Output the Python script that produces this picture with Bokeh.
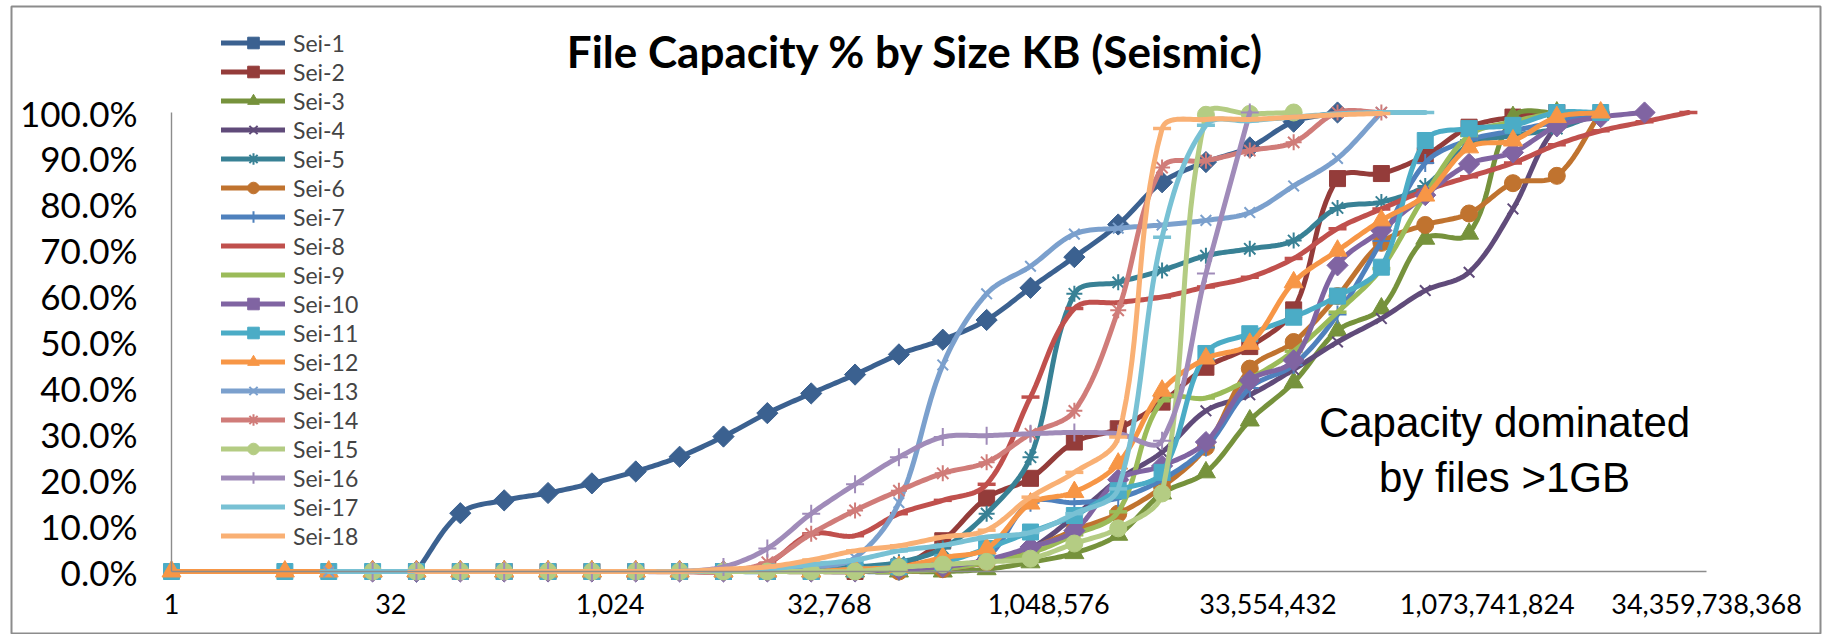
import math
import numpy as np
from bokeh.plotting import figure
from bokeh.models import (Range1d, LogAxis, LinearAxis, FixedTicker, NumeralTickFormatter,
                          Legend, LegendItem, Label)
from bokeh.embed import file_html
from bokeh.resources import INLINE

N = None

# File size buckets (KB)
SIZE_KB = [1, 6, 12, 24, 48, 96, 192, 384, 768, 1536, 3072, 6144, 12288, 24576, 49152,
           98304, 196608, 393216, 786432, 1572864, 3145728, 6291456, 12582912, 25165824,
           50331648, 100663296, 201326592, 402653184, 805306368, 1610612736, 3221225472,
           6442450944, 12884901888, 25769803776]

# Axis tick positions (KB)
X_TICKS = [1, 32, 1024, 32768, 1048576, 33554432, 1073741824, 34359738368]
Y_TICKS = [0.0, 0.1, 0.2, 0.3, 0.4, 0.5, 0.6, 0.7, 0.8, 0.9, 1.0]

# Cumulative capacity share per size bucket
sei_1 = [N, N, N, N, 0, .127, .155, .171, .192, .218, .250, .294, .345, .388, .429, .473, .505,
         .548, .618, .685, .756, .848, .892, .924, .980, 1.0, N, N, N, N, N, N, N, N]
sei_2 = [N, N, N, N, 0, 0, 0, 0, 0, 0, 0, 0, 0, 0, 0, .010, .067, .160, .203, .282, .311, .369,
         .445, .490, .570, .856, .867, .906, .968, .990, 1.0, N, N, N]
sei_3 = [N, N, N, 0, 0, 0, 0, 0, 0, 0, 0, 0, 0, 0, 0, 0, 0, .005, .020, .040, .080, .170, .216,
         .329, .412, .525, .573, .725, .736, .990, 1.0, N, N, N]
sei_4 = [N, N, 0, 0, 0, 0, 0, 0, 0, 0, 0, 0, 0, 0, 0, 0, .005, .020, .050, .120, .200, .260,
         .350, .385, .440, .500, .551, .612, .652, .790, .970, 1.0, N, N]
sei_5 = [N, N, 0, 0, 0, 0, 0, 0, 0, 0, 0, 0, 0, .005, .010, .020, .050, .126, .249, .605, .630,
         .656, .688, .703, .721, .792, .805, .840, .930, .950, .965, 1.0, N, N]
sei_6 = [N, N, N, 0, 0, 0, 0, 0, 0, 0, 0, 0, 0, 0, 0, 0, .005, .020, .050, .090, .126, .184,
         .271, .442, .500, .600, .716, .755, .780, .846, .862, 1.0, N, N]
sei_7 = [N, N, N, N, 0, 0, 0, 0, 0, 0, 0, 0, 0, 0, 0, 0, .010, .030, .150, .150, .160, .200,
         .270, .400, .450, .560, .720, .890, .940, .960, .980, 1.0, N, N]
sei_8 = [N, N, N, N, 0, 0, 0, 0, 0, 0, 0, 0, .017, .082, .078, .126, .155, .190, .380, .573,
         .586, .598, .620, .641, .682, .747, .790, .830, .860, .890, .930, .960, .980, 1.0]
sei_9 = [N, N, N, 0, 0, 0, 0, 0, 0, 0, 0, 0, 0, 0, 0, 0, .005, .020, .040, .080, .130, .372,
         .378, .420, .480, .565, .660, .820, .950, .980, 1.0, N, N, N]
sei_10 = [N, N, N, 0, 0, 0, 0, 0, 0, 0, 0, 0, 0, 0, 0, .005, .010, .025, .053, .089, .200,
          .230, .282, .416, .460, .667, .743, .820, .888, .913, .970, .990, 1.0, N]
sei_11 = [0, 0, 0, 0, 0, 0, 0, 0, 0, 0, 0, 0, 0, 0, .005, .010, .020, .050, .086, .122, .176,
          .216, .475, .518, .554, .600, .663, .939, .965, .972, 1.0, 1.0, N, N]
sei_12 = [0, 0, 0, 0, 0, 0, 0, 0, 0, 0, 0, 0, 0, 0, .005, .010, .030, .050, .148, .173, .235,
          .394, .464, .496, .630, .699, .765, .819, .924, .939, .990, 1.0, N, N]
sei_13 = [N, N, 0, 0, 0, 0, 0, 0, 0, 0, 0, 0, .005, .010, .030, .150, .450, .605, .665, .735,
          .748, .755, .765, .782, .840, .900, 1.0, N, N, N, N, N, N, N]
sei_14 = [N, N, N, N, 0, 0, 0, 0, 0, 0, 0, 0, .020, .082, .133, .176, .214, .238, .300, .350,
          .569, .880, .895, .917, .935, 1.0, 1.0, N, N, N, N, N, N, N]
sei_15 = [N, N, N, 0, 0, 0, 0, 0, 0, 0, 0, 0, 0, 0, 0, .009, .015, .021, .028, .061, .094,
          .170, .995, .997, 1.0, N, N, N, N, N, N, N, N, N]
sei_16 = [N, N, N, 0, 0, 0, 0, 0, 0, 0, 0, .010, .050, .126, .190, .249, .293, .296, .300,
          .303, .300, .285, .649, 1.0, N, N, N, N, N, N, N, N, N, N]
sei_17 = [N, N, 0, 0, 0, 0, 0, 0, 0, 0, 0, .003, .006, .015, .025, .045, .057, .075, .085,
          .126, .180, .728, .972, .982, .990, .997, 1.0, 1.0, N, N, N, N, N, N]
sei_18 = [N, N, N, N, 0, 0, 0, 0, 0, 0, 0, .005, .010, .025, .045, .056, .075, .090, .162,
          .216, .293, .965, .985, .985, .990, .995, .998, N, N, N, N, N, N, N]

SERIES = [("Sei-1", sei_1), ("Sei-2", sei_2), ("Sei-3", sei_3), ("Sei-4", sei_4),
          ("Sei-5", sei_5), ("Sei-6", sei_6), ("Sei-7", sei_7), ("Sei-8", sei_8),
          ("Sei-9", sei_9), ("Sei-10", sei_10), ("Sei-11", sei_11), ("Sei-12", sei_12),
          ("Sei-13", sei_13), ("Sei-14", sei_14), ("Sei-15", sei_15), ("Sei-16", sei_16),
          ("Sei-17", sei_17), ("Sei-18", sei_18)]

COLORS = ["#3B6190", "#943C3A", "#76923C", "#604B7A", "#388195", "#C0732F",
          "#4F81BD", "#C0504D", "#9BBB59", "#8064A2", "#4BACC6", "#F79646",
          "#7BA0CD", "#D07C79", "#B4CC83", "#A08BB9", "#78C1D4", "#F9B074"]

# marker style per series: (marker, size, angle, outline width, filled)
MARKERS = [("square", 15, math.pi / 4, 1, True), ("square", 16, 0, 1, True),
           ("triangle", 19, 0, 1, True), ("x", 15, 0, 2, False),
           ("asterisk", 16, 0, 2, False), ("circle", 17, 0, 1, True),
           ("cross", 18, 0, 2, False), ("dash", 18, 0, 3.5, False),
           ("dash", 18, 0, 3.5, False)]
MARKERS = MARKERS + MARKERS

# canvas and frame geometry (px); the frame outline is the chart border
W, H = 1826, 634
FRAME_L, FRAME_R, FRAME_T = 11, 1820, 6
PX_ORIGIN, PX_PER_OCTAVE = 171.0, 43.86     # x = 1 KB sits at px 171
PY_ZERO, PY_PER_UNIT = 571.0, 459.0          # 0% at py 571, 100% at py 112

x_lo = 2 ** ((FRAME_L - PX_ORIGIN) / PX_PER_OCTAVE)
x_hi = 2 ** ((FRAME_R - PX_ORIGIN) / PX_PER_OCTAVE)
y_hi = (PY_ZERO - FRAME_T) / PY_PER_UNIT
y_lo = -(H - PY_ZERO) / PY_PER_UNIT


def smooth(xs, ys, steps=16):
    """Bezier smoothing with tangent handles scaled by segment length (pixel space)."""
    pts = [(math.log2(x) * PX_PER_OCTAVE, y * PY_PER_UNIT) for x, y in zip(xs, ys)]
    n = len(pts)
    if n < 2:
        return list(xs), list(ys)

    def tangent(i):
        a = pts[i - 1] if i > 0 else pts[i]
        b = pts[i + 1] if i + 1 < n else pts[i]
        dx, dy = b[0] - a[0], b[1] - a[1]
        d = math.hypot(dx, dy) or 1.0
        return dx / d, dy / d

    ox, oy = [], []
    for i in range(n - 1):
        p1, p2 = pts[i], pts[i + 1]
        seg = math.hypot(p2[0] - p1[0], p2[1] - p1[1]) / 3.0
        t1, t2 = tangent(i), tangent(i + 1)
        c1 = (p1[0] + t1[0] * seg, p1[1] + t1[1] * seg)
        c2 = (p2[0] - t2[0] * seg, p2[1] - t2[1] * seg)
        for t in np.linspace(0, 1, steps, endpoint=(i == n - 2)):
            a, b, c, d = (1 - t) ** 3, 3 * t * (1 - t) ** 2, 3 * t * t * (1 - t), t ** 3
            ox.append(a * p1[0] + b * c1[0] + c * c2[0] + d * p2[0])
            oy.append(a * p1[1] + b * c1[1] + c * c2[1] + d * p2[1])
    return [2 ** (v / PX_PER_OCTAVE) for v in ox], [v / PY_PER_UNIT for v in oy]


p = figure(width=W, height=H, x_axis_type="log", x_axis_location=None, y_axis_location=None,
           x_range=Range1d(x_lo, x_hi), y_range=Range1d(y_lo, y_hi),
           output_backend="svg", toolbar_location=None,
           min_border_left=FRAME_L, min_border_right=W - FRAME_R,
           min_border_top=FRAME_T, min_border_bottom=0,
           background_fill_color="white", border_fill_color="white")
p.outline_line_color = "#8C8C8C"
p.outline_line_width = 2
p.grid.visible = False

xaxis = LogAxis(fixed_location=0, bounds=(X_TICKS[0], X_TICKS[-1]),
                ticker=FixedTicker(ticks=X_TICKS, minor_ticks=[]),
                formatter=NumeralTickFormatter(format="0,0"))
yaxis = LinearAxis(fixed_location=1, bounds=(0, 1),
                   ticker=FixedTicker(ticks=Y_TICKS, minor_ticks=[]),
                   formatter=NumeralTickFormatter(format="0.0%"))
for ax in (xaxis, yaxis):
    ax.axis_line_color = "#8C8C8C"
    ax.axis_line_width = 1.4
    ax.major_tick_line_color = None
    ax.minor_tick_line_color = None
    ax.major_tick_in = 0
    ax.major_tick_out = 0
    ax.major_label_text_font = "Lato"
    ax.major_label_text_color = "black"
xaxis.major_label_text_font_size = "27px"
xaxis.major_label_standoff = 22
yaxis.major_label_text_font_size = "35px"
yaxis.major_label_standoff = 34
p.add_layout(xaxis, "below")
p.add_layout(yaxis, "left")

items = []
for k, (name, vals) in enumerate(SERIES):
    xs = [x for x, v in zip(SIZE_KB, vals) if v is not None]
    ys = [v for v in vals if v is not None]
    sx, sy = smooth(xs, ys)
    col = COLORS[k]
    mk, size, ang, lw, filled = MARKERS[k]
    lr = p.line(sx, sy, line_color=col, line_width=5, line_join="round", line_cap="round")
    mr = p.scatter(xs, ys, marker=mk, size=size, angle=ang,
                   fill_color=col if filled else None, line_color=col, line_width=lw)
    items.append(LegendItem(label=name, renderers=[lr, mr]))

legend = Legend(items=items, location=(221 - FRAME_L, 84), glyph_width=64, glyph_height=29,
                label_height=29, spacing=0, padding=0, margin=0, label_standoff=8,
                border_line_color=None, background_fill_alpha=0,
                label_text_font="Lato", label_text_font_size="23px")
p.add_layout(legend)

p.add_layout(Label(x=915 - FRAME_L, y=H - 50, x_units="screen", y_units="screen",
                   text="File Capacity % by Size KB (Seismic)", text_font="Lato",
                   text_font_style="bold", text_font_size="44px", text_align="center",
                   text_baseline="middle", text_color="black"))
p.add_layout(Label(x=1504 - FRAME_L, y=H - 422, x_units="screen", y_units="screen",
                   text="Capacity dominated", text_font="Liberation Sans",
                   text_font_size="42px", text_align="center", text_baseline="middle",
                   text_color="black"))
p.add_layout(Label(x=1504 - FRAME_L, y=H - 477, x_units="screen", y_units="screen",
                   text="by files >1GB", text_font="Liberation Sans",
                   text_font_size="42px", text_align="center", text_baseline="middle",
                   text_color="black"))

open("out.html", "w").write(file_html(p, INLINE))
